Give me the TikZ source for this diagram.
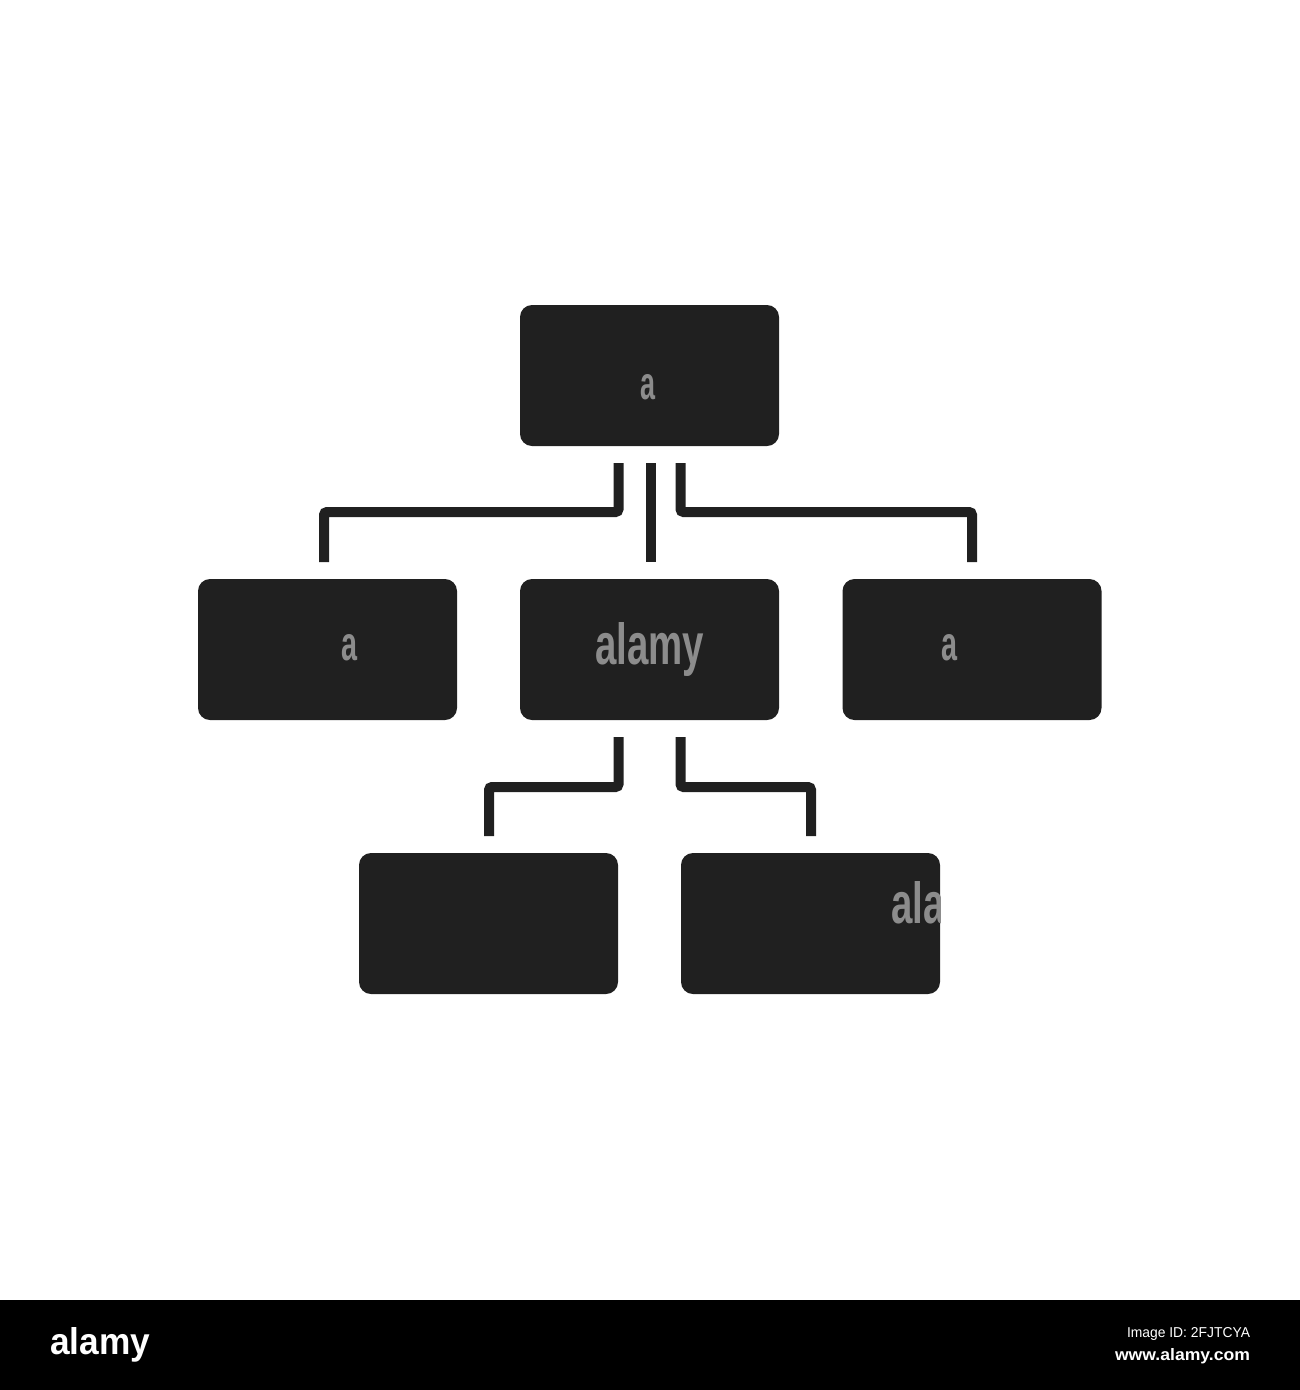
\documentclass[tikz,border=0pt]{standalone}
\usepackage{fontspec}
\setmainfont{Liberation Sans}
\usepackage{graphicx}
\usetikzlibrary{calc}

\definecolor{boxfill}{HTML}{202020}
\definecolor{markgray}{HTML}{8C8C8C}

\tikzset{
  chartbox/.style={fill=boxfill, rounded corners=12pt, minimum width=259pt, minimum height=141pt},
  link/.style={draw=boxfill, line width=10pt, rounded corners=3pt},
  wmtext/.style={anchor=base west, text=markgray}
}

\begin{document}
\begin{tikzpicture}[x=1pt, y=-1pt, inner sep=0pt, outer sep=0pt]
    \fill[white] (0,0) rectangle (1300,1390);

    % top box
    \node[chartbox] (top) at (649.5,375.5) {};

    % middle row
    \node[chartbox] (mid_c) at ($(top) + (0,274)$) {};
    \node[chartbox] (mid_l) at ($(mid_c) + (-322,0)$) {};
    \node[chartbox] (mid_r) at ($(mid_c) + (322.5,0)$) {};

    % bottom row
    \node[chartbox] (bot_l) at ($(mid_c) + (-161,274)$) {};
    \node[chartbox] (bot_r) at ($(mid_c) + (161,274)$) {};

    % links top -> middle
    \draw[link] ($(top.south) + (-31,17)$) -- ++(0,49) -| ($(mid_l.north) + (-3.5,-17)$);
    \draw[link] ($(top.south) + (1.5,17)$) -- ($(mid_c.north) + (1.5,-17)$);
    \draw[link] ($(top.south) + (31,17)$) -- ++(0,49) -| ($(mid_r.north) + (0,-17)$);

    % links middle -> bottom
    \draw[link] ($(mid_c.south) + (-31,17)$) -- ++(0,50) -| ($(bot_l.north) + (0.5,-17)$);
    \draw[link] ($(mid_c.south) + (31,17)$) -- ++(0,50) -| ($(bot_r.north) + (0.5,-17)$);

    % watermark
    \node[wmtext] (mark_c) at (595,664) {\resizebox{109pt}{42pt}{\bfseries alamy}};
    \node[wmtext] (mark_t) at (640,399) {\resizebox{15pt}{25pt}{\bfseries a}};
    \node[wmtext] (mark_l) at (341,660) {\resizebox{16pt}{26pt}{\bfseries a}};
    \node[wmtext] (mark_r) at (941,660) {\resizebox{16pt}{26pt}{\bfseries a}};
    \begin{scope}
      \clip (bot_r.north west) rectangle (bot_r.south east);
      \node[wmtext] (mark_br) at (891,923) {\resizebox{109pt}{42pt}{\bfseries alamy}};
    \end{scope}

    % footer bar
    \fill[black] (0,1300) rectangle (1300,1390);
    \node[anchor=base west, text=white] (logo) at (50,1354)
    {\resizebox{100pt}{27pt}{\bfseries alamy}};
    \node[anchor=base east, text=white] (img_id) at (1250,1337)
    {\resizebox{123pt}{10pt}{Image ID: 2FJTCYA}};
    \node[anchor=base east, text=white] (site) at (1250,1360)
    {\resizebox{135pt}{12pt}{\bfseries www.alamy.com}};
\end{tikzpicture}
\end{document}
